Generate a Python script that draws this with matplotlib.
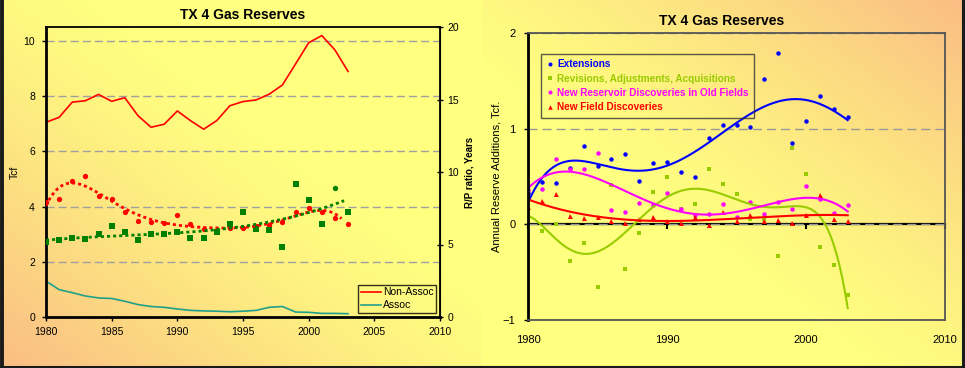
import numpy as np
import matplotlib.pyplot as plt
from matplotlib.lines import Line2D

plt.rcParams['font.family'] = ['Liberation Sans', 'DejaVu Sans']

years = np.arange(1980, 2004)

# Left chart: reserves in Tcf (left axis)
non_assoc = [7.05, 7.23, 7.78, 7.83, 8.06, 7.81, 7.94, 7.29, 6.87, 6.98, 7.46, 7.11,
             6.80, 7.11, 7.65, 7.80, 7.86, 8.07, 8.40, 9.16, 9.93, 10.19, 9.67, 8.89]
assoc = [1.30, 0.99, 0.88, 0.76, 0.69, 0.67, 0.57, 0.45, 0.38, 0.35, 0.29, 0.24,
         0.22, 0.21, 0.19, 0.21, 0.24, 0.35, 0.38, 0.18, 0.17, 0.13, 0.13, 0.12]

# Left chart: R/P ratios in years (right axis)
rp_non_assoc = [7.96, 8.17, 9.40, 9.70, 8.36, 8.17, 7.25, 6.62, 6.55, 6.46, 7.06, 6.39,
                6.06, 5.90, 6.13, 6.13, 6.30, 6.34, 6.53, 7.22, 7.55, 7.22, 6.81, 6.39]
rp_assoc = [5.14, 5.28, 5.42, 5.37, 5.74, 6.25, 5.83, 5.32, 5.74, 5.74, 5.83, 5.44,
            5.46, 5.83, 6.39, 7.27, 6.06, 5.97, 4.86, 9.17, 8.06, 6.39, 8.91, 7.22]

# Right chart: annual reserve additions, Tcf
extensions = [0.33, 0.44, 0.43, 0.59, 0.82, 0.61, 0.68, 0.73, 0.45, 0.64, 0.65, 0.55,
              0.49, 0.90, 1.035, 1.035, 1.02, 1.52, 1.79, 0.85, 1.08, 1.34, 1.21, 1.12]
revisions = [0.09, -0.07, 0.00, -0.38, -0.20, -0.65, 0.41, -0.47, -0.09, 0.34, 0.49, 0.16,
             0.21, 0.58, 0.42, 0.32, 0.06, 0.06, -0.33, 0.80, 0.53, -0.24, -0.42, -0.74]
new_reservoirs = [0.36, 0.37, 0.68, 0.58, 0.58, 0.75, 0.15, 0.13, 0.22, 0.20, 0.33, 0.16,
                  0.10, 0.11, 0.21, 0.08, 0.23, 0.11, 0.23, 0.16, 0.40, 0.27, 0.12, 0.20]
new_fields = [0.18, 0.24, 0.32, 0.09, 0.07, 0.08, 0.03, 0.01, 0.06, 0.08, 0.03, 0.01,
              0.08, -0.01, 0.13, 0.03, 0.10, 0.03, 0.05, 0.01, 0.10, 0.31, 0.06, 0.03]

W, H = 965, 368
fig = plt.figure(figsize=(W / 100, H / 100), dpi=100)

# yellow background with orange corners (bottom-left on the left chart, top-right on the right one)
xx, yy = np.meshgrid(np.arange(W), np.arange(H))
yellow = np.array([255, 255, 128]) / 255
orange = np.array([250, 188, 132]) / 255
t_left = (xx / 482 + (H - 1 - yy) / H) / 2
t_right = ((W - 1 - xx) / 483 + yy / H) / 2
t = np.where(xx < 482, t_left, t_right)
w = np.clip(1 - t / 0.6, 0, 1) ** 1.3
bg = yellow + (orange - yellow) * w[..., None]
fig.figimage(bg, xo=0, yo=0, origin='upper', zorder=-1)

# dark frame on left, right and bottom
for xs, ys, lw in [([0.002, 0.002], [0, 1], 2.8), ([0.998, 0.998], [0, 1], 2.2),
                   ([0, 1], [0.004, 0.004], 2.2)]:
    fig.add_artist(Line2D(xs, ys, transform=fig.transFigure, color='#1a1a1a', lw=lw))

fine = np.linspace(1980, 2003, 200)

# ---------- left chart ----------
ax1 = fig.add_axes([46 / W, 1 - 317 / H, 394 / W, 290 / H])
ax1.set_facecolor('none')
ax1.set_xlim(1980, 2010)
ax1.set_ylim(0, 10.5)
ax1.set_xticks(range(1980, 2011, 5))
ax1.set_yticks(range(0, 11, 2))
ax1.yaxis.grid(True, color='#a0a0a0', lw=1, ls=(0, (5.8, 2.9)))
ax1.set_axisbelow(True)
l1, = ax1.plot(years, non_assoc, color='#ff0000', lw=1.2, label='Non-Assoc')
l2, = ax1.plot(years, assoc, color='#20a08a', lw=1.2, label='Assoc')
ax1.tick_params(labelsize=7.5, length=3, width=1)
ax1.tick_params(axis='x', pad=4)
ax1.tick_params(axis='y', pad=5)
ax1.set_ylabel('Tcf', fontsize=7.5)
ax1.yaxis.set_label_coords(-0.066, 0.5)
for s in ['left', 'bottom']:
    ax1.spines[s].set_linewidth(2)
ax1.spines['top'].set_linewidth(1.3)

ax2 = ax1.twinx()
ax2.set_ylim(0, 20)
ax2.set_yticks(range(0, 21, 5))
ax2.tick_params(labelsize=7.5, length=5, width=1, direction='inout', pad=3)
for s in ['left', 'bottom', 'top']:
    ax2.spines[s].set_visible(False)
ax2.spines['right'].set_linewidth(1.3)
ax2.set_ylabel('R/P ratio, Years', fontsize=7, weight='bold')
ax2.yaxis.set_label_coords(1.062, 0.5)

rp_assoc = np.array(rp_assoc)
round_pt = years == 2002
ax2.plot(years, rp_non_assoc, 'o', color='#ff0000', ms=3.8, mew=0)
ax2.plot(years[~round_pt], rp_assoc[~round_pt], 's', color='#008000', ms=3.8, mew=0)
ax2.plot(years[round_pt], rp_assoc[round_pt], 'o', color='#008000', ms=3.8, mew=0)
# polynomial trend lines through the R/P points
for vals, color, deg, end in [(rp_non_assoc, '#ff0000', 6, 2002.5), (rp_assoc, '#008000', 3, 2002.7)]:
    trend = np.polynomial.Polynomial.fit(years, vals, deg)
    span = np.linspace(1980, end, 200)
    ax2.plot(span, trend(span), color=color, lw=2, ls=(0, (1.1, 1.1)))

leg1 = ax2.legend([l1, l2], ['Non-Assoc', 'Assoc'], loc='lower right',
                  bbox_to_anchor=(0.99, 0.014), borderaxespad=0, fontsize=7.5,
                  frameon=True, fancybox=False, handlelength=1.9, handletextpad=0.2,
                  borderpad=0.25, labelspacing=0.3)
leg1.get_frame().set_edgecolor('black')
leg1.get_frame().set_facecolor('none')
leg1.get_frame().set_linewidth(1)

fig.text(243 / W, 1 - 15 / H, 'TX 4 Gas Reserves', ha='center', va='center',
         fontsize=10, weight='bold')

# ---------- right chart ----------
axr = fig.add_axes([528 / W, 1 - 320 / H, 417 / W, 287 / H])
axr.set_facecolor('none')
axr.set_xlim(1980, 2010)
axr.set_ylim(-1, 2)
axr.set_xticks(range(1980, 2011, 10))
axr.set_yticks([-1, 0, 1, 2])
axr.yaxis.grid(True, color='#999999', lw=1, ls=(0, (6.5, 3.6)))
axr.set_axisbelow(True)
axr.tick_params(labelsize=8)
axr.tick_params(axis='x', length=0, pad=11)
axr.tick_params(axis='y', length=3, width=1, pad=6)
axr.spines['left'].set_linewidth(2)
for s in ['top', 'right', 'bottom']:
    axr.spines[s].set_color('#555555')
    axr.spines[s].set_linewidth(1.3)
axr.set_ylabel('Annual Reserve Additions, Tcf.', fontsize=8)
axr.yaxis.set_label_coords(-0.0636, 0.5)

# zero line carrying the year tick marks
zero = axr.secondary_xaxis(1 / 3)
zero.set_xticks(range(1980, 2011, 10))
zero.tick_params(labelbottom=False, labeltop=False, length=3.5, width=1.5, direction='out')
zero.spines['bottom'].set_linewidth(1.6)
zero.spines['bottom'].set_color('black')

series = [
    (extensions, 'Extensions', '#0000ff', 'o', 3.2, 5),
    (revisions, 'Revisions, Adjustments, Acquisitions', '#99cc00', 's', 2.6, 6),
    (new_reservoirs, 'New Reservoir Discoveries in Old Fields', '#ff00ff', 'o', 3.2, 4),
    (new_fields, 'New Field Discoveries', '#ff0000', '^', 3.6, 3),
]
for vals, label, color, marker, ms, deg in series:
    axr.plot(years, vals, ls='none', marker=marker, ms=ms, mew=0, color=color, label=label)
for vals, label, color, marker, ms, deg in series:
    trend = np.polynomial.Polynomial.fit(years, vals, deg)
    axr.plot(fine, trend(fine), color=color, lw=1.5)

leg2 = axr.legend(loc='upper left', bbox_to_anchor=(0.03, 0.927), borderaxespad=0,
                  prop={'size': 7.2, 'weight': 'bold'}, labelcolor='markerfacecolor',
                  frameon=True, fancybox=False, handlelength=0.8, handletextpad=0.3,
                  borderpad=0.55, labelspacing=0.42, markerscale=0.9)
leg2.get_frame().set_edgecolor('#333333')
leg2.get_frame().set_facecolor('none')
leg2.get_frame().set_linewidth(1)

fig.text(722 / W, 1 - 21 / H, 'TX 4 Gas Reserves', ha='center', va='center',
         fontsize=10, weight='bold')

fig.savefig('out.png', dpi=100)
